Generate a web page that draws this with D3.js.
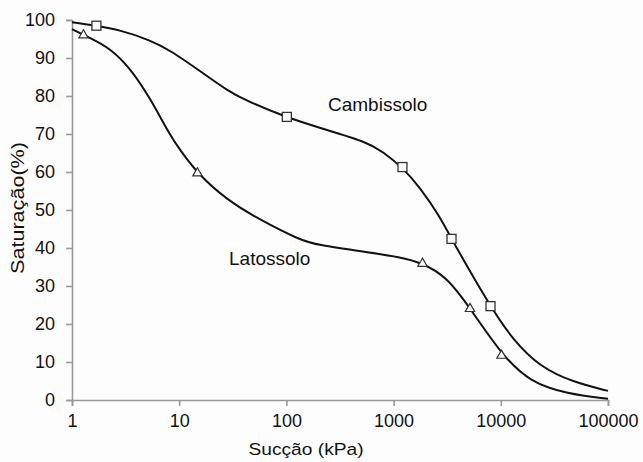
<!DOCTYPE html>
<html>
<head>
<meta charset="utf-8">
<script src="https://cdn.jsdelivr.net/npm/d3@7"></script>
<style>
  body { margin: 0; background: #fdfdfd; }
  text { font-family: "Liberation Sans", Arial, sans-serif; fill: #111; }
</style>
</head>
<body>
<svg id="chart"></svg>
<script>
// tick values
const xTicks = [1, 10, 100, 1000, 10000, 100000];
const yTicks = [0, 10, 20, 30, 40, 50, 60, 70, 80, 90, 100];

// measured points (markers)
const cambPoints = [[1.69, 98.5], [101, 74.5], [1210, 61.3], [3470, 42.4], [8020, 24.7]];
const latoPoints = [[1.28, 96.0], [14.8, 59.7], [1860, 35.9], [5160, 24.0], [10150, 11.7]];

// fitted curves
const cambCurve = [
  [1, 99.4], [1.64, 98.5], [2.8, 97.4], [5.34, 94.7], [8.2, 92.1], [16.7, 86],
  [29.8, 81], [39.4, 79.2], [97, 74.5], [206, 71.6], [565, 67.9], [796, 65.3],
  [1197, 61.3], [1762, 56], [2710, 48.2], [3510, 42.1], [7930, 24.7], [13000, 15.8],
  [23200, 8.7], [47200, 4.7], [100000, 2.4]
];
const latoCurve = [
  [1, 97.6], [1.47, 95.3], [2.26, 92.6], [3.48, 87.4], [5.34, 79.5], [8.2, 69.7],
  [10.2, 65.8], [14.7, 59.7], [27.9, 52.6], [56.7, 47.4], [134, 42.1], [193, 40.8],
  [565, 38.9], [1148, 37.6], [1841, 36.1], [3150, 32.4], [5160, 24.2], [10260, 11.8],
  [18700, 4.7], [41500, 1.6], [100000, 0.3]
];

const W = 643, H = 462;
const svg = d3.select('#chart').attr('width', W).attr('height', H);

const x = d3.scaleLog().domain([1, 100000]).range([72, 608]);
const y = d3.scaleLinear().domain([0, 100]).range([400, 20]);

// axes
const xAxis = d3.axisBottom(x).tickValues(xTicks).tickFormat(d3.format('d')).tickSizeOuter(0).tickSize(6);
const yAxis = d3.axisLeft(y).tickValues(yTicks).tickSizeOuter(0).tickSize(6);

const gx = svg.append('g').attr('transform', 'translate(0,400)').call(xAxis);
const gy = svg.append('g').attr('transform', 'translate(72,0)').call(yAxis);

[gx, gy].forEach(g => {
  g.selectAll('path, line').attr('stroke', '#9a9a9a').attr('stroke-width', 1.6);
  g.selectAll('text').attr('font-size', 18).attr('fill', '#111')
    .style('font-family', '"Liberation Sans", Arial, sans-serif');
});
gx.selectAll('text').attr('y', 14);
gy.selectAll('text').attr('x', -17);

// curves
const line = d3.line().x(d => x(d[0])).y(d => y(d[1])).curve(d3.curveBasis);

svg.append('path').datum(cambCurve).attr('d', line)
  .attr('fill', 'none').attr('stroke', '#111').attr('stroke-width', 2);
svg.append('path').datum(latoCurve).attr('d', line)
  .attr('fill', 'none').attr('stroke', '#111').attr('stroke-width', 2);

// markers
svg.selectAll('.sq').data(cambPoints).enter()
  .append('rect').attr('class', 'sq')
  .attr('x', d => x(d[0]) - 4.5).attr('y', d => y(d[1]) - 4.5)
  .attr('width', 9).attr('height', 9)
  .attr('fill', '#fdfdfd').attr('stroke', '#333').attr('stroke-width', 1.3);

const tri = d3.symbol().type(d3.symbolTriangle).size(38);
svg.selectAll('.tri').data(latoPoints).enter()
  .append('path').attr('class', 'tri')
  .attr('d', tri)
  .attr('transform', d => `translate(${x(d[0])},${y(d[1])})`)
  .attr('fill', '#fdfdfd').attr('stroke', '#333').attr('stroke-width', 1.2);

// labels
svg.append('text').attr('x', 328).attr('y', 111).attr('font-size', 19).text('Cambissolo');
svg.append('text').attr('x', 229).attr('y', 265).attr('font-size', 19).text('Latossolo');

// axis titles
svg.append('g').attr('transform', 'translate(306,455) scale(1.13,1)')
  .append('text').attr('text-anchor', 'middle').attr('font-size', 17).text('Sucção (kPa)');
svg.append('g').attr('transform', 'translate(24,208) rotate(-90) scale(1.2,1)')
  .append('text').attr('text-anchor', 'middle').attr('font-size', 18).text('Saturação(%)');
</script>
</body>
</html>
